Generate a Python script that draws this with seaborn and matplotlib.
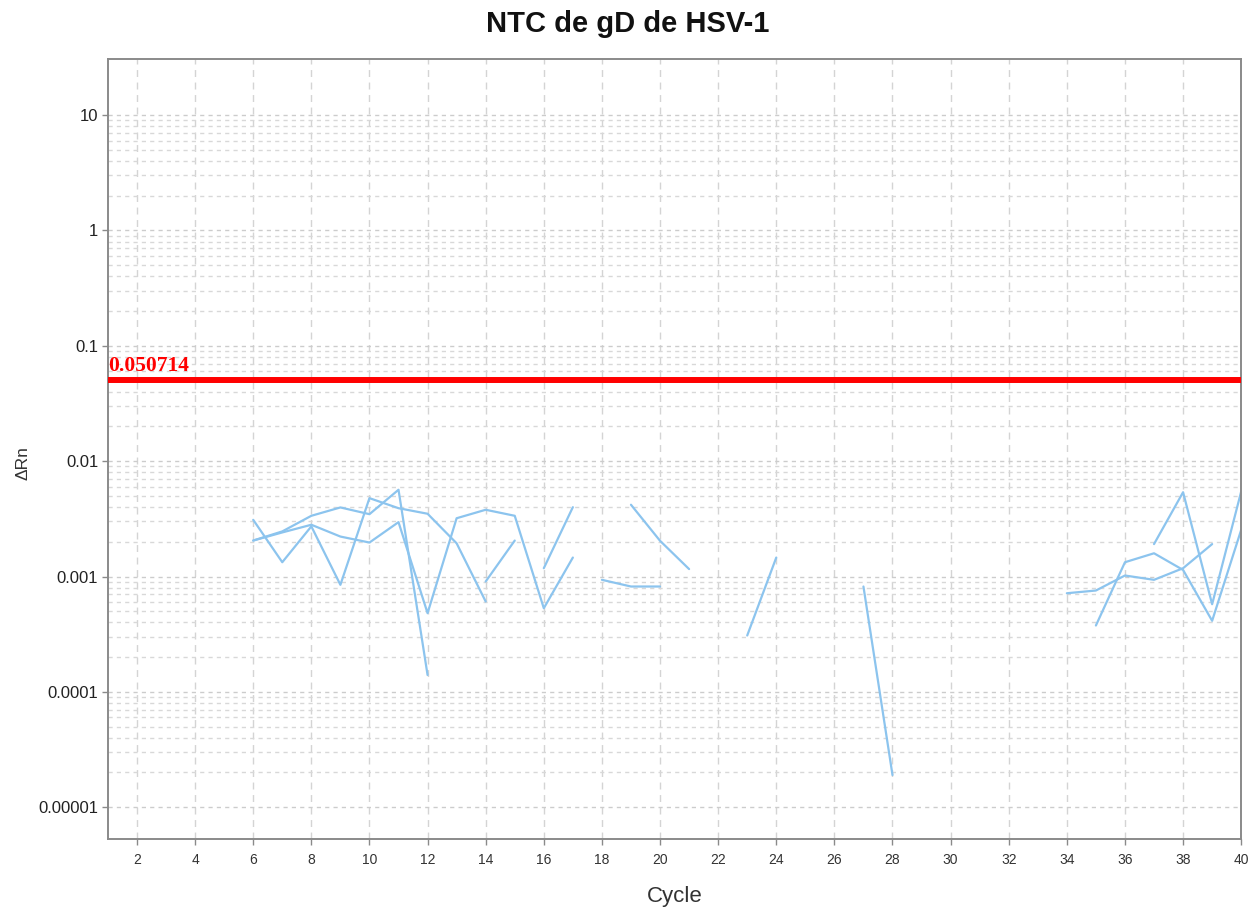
import numpy as np
import pandas as pd
import matplotlib
matplotlib.use("Agg")
import matplotlib.pyplot as plt
import seaborn as sns
from matplotlib.ticker import FixedLocator, NullFormatter, FixedFormatter

# ---------------- data ----------------
title = "NTC de gD de HSV-1"
x_label = "Cycle"
y_label = "ΔRn"
threshold = 0.050714
threshold_label = "0.050714"
x_ticks = list(range(2, 41, 2))
y_ticks = [1e-5, 1e-4, 1e-3, 1e-2, 1e-1, 1, 10]
y_tick_labels = ["0.00001", "0.0001", "0.001", "0.01", "0.1", "1", "10"]

# amplification-plot segments (cycles, ΔRn); gaps are negative ΔRn values
seg1_cycles = [6, 7, 8, 9, 10, 11, 12, 13, 14]
seg1_drn = [0.00310, 0.00133, 0.00272, 0.000847, 0.00478, 0.00391, 0.00350, 0.00194, 0.000607]

seg2_cycles = [6, 7, 8, 9, 10, 11, 12]
seg2_drn = [0.00205, 0.00246, 0.00336, 0.00397, 0.00347, 0.00565, 0.000140]

seg3_cycles = [6, 7, 8, 9, 10, 11, 12, 13, 14, 15, 16, 17]
seg3_drn = [0.00205, 0.00241, 0.00281, 0.00222, 0.00197, 0.00296, 0.000481,
            0.00320, 0.00379, 0.00336, 0.000531, 0.00146]

seg4_cycles = [16, 17]
seg4_drn = [0.00118, 0.00399]

seg5_cycles = [14, 15]
seg5_drn = [0.000905, 0.00205]

seg6_cycles = [18, 19, 20]
seg6_drn = [0.000936, 0.000819, 0.000819]

seg7_cycles = [19, 20, 21]
seg7_drn = [0.00419, 0.00204, 0.00116]

seg8_cycles = [23, 24]
seg8_drn = [0.000308, 0.00146]

seg9_cycles = [27, 28]
seg9_drn = [0.000819, 0.0000190]

seg10_cycles = [34, 35, 36, 37, 38, 39]
seg10_drn = [0.000716, 0.000756, 0.00102, 0.000936, 0.00118, 0.00191]

seg11_cycles = [35, 36, 37, 38, 39, 40]
seg11_drn = [0.000376, 0.00133, 0.00159, 0.00114, 0.000413, 0.00254]

seg12_cycles = [37, 38, 39, 40]
seg12_drn = [0.00191, 0.00538, 0.000575, 0.00546]

segments = [
    (seg1_cycles, seg1_drn), (seg2_cycles, seg2_drn), (seg3_cycles, seg3_drn),
    (seg4_cycles, seg4_drn), (seg5_cycles, seg5_drn), (seg6_cycles, seg6_drn),
    (seg7_cycles, seg7_drn), (seg8_cycles, seg8_drn), (seg9_cycles, seg9_drn),
    (seg10_cycles, seg10_drn), (seg11_cycles, seg11_drn), (seg12_cycles, seg12_drn),
]
rows = []
for i, (cs, vs) in enumerate(segments):
    for c, v in zip(cs, vs):
        rows.append({"cycle": c, "drn": v, "segment": i})
df = pd.DataFrame(rows)

# ---------------- style ----------------
sns.set_theme(style="white")
plt.rcParams["font.family"] = ["Liberation Sans", "DejaVu Sans"]

fig = plt.figure(figsize=(12.55, 9.09), dpi=100)
ax = fig.add_axes([0.086, 0.077, 0.989 - 0.086, 0.935 - 0.077])

sns.lineplot(data=df, x="cycle", y="drn", units="segment", estimator=None,
             color="#8cc4ee", linewidth=1.6, ax=ax, legend=False)

ax.set_yscale("log")
ax.set_xlim(1, 40)
ax.set_ylim(5.3e-6, 30.6)

# grid
minor_y = [m * 10.0 ** e for e in range(-5, 1) for m in range(2, 10)]
ax.xaxis.set_major_locator(FixedLocator(x_ticks))
ax.yaxis.set_major_locator(FixedLocator(y_ticks))
ax.yaxis.set_major_formatter(FixedFormatter(y_tick_labels))
ax.yaxis.set_minor_locator(FixedLocator(minor_y))
ax.yaxis.set_minor_formatter(NullFormatter())
ax.grid(True, axis="x", which="major", color="#d4d4d4", linestyle=(0, (5, 4)), linewidth=1.0)
ax.grid(True, axis="y", which="major", color="#cccccc", linestyle=(0, (3, 3)), linewidth=1.0)
ax.grid(True, axis="y", which="minor", color="#d8d8d8", linestyle=(0, (3, 3)), linewidth=1.0)
ax.set_axisbelow(True)

# threshold
ax.axhline(threshold, color="#ff0000", linewidth=4.3, zorder=5)
ax.annotate(threshold_label, xy=(1, threshold), xytext=(0.5, 2.5), textcoords="offset points",
            ha="left", va="bottom", color="#ff0000", fontsize=15.5, fontweight="bold",
            family=["Liberation Serif", "DejaVu Serif"], zorder=6)

# spines and ticks
for s in ax.spines.values():
    s.set_color("#8a8a8a")
    s.set_linewidth(1.4)
ax.tick_params(axis="x", which="major", length=4, width=1, color="#8a8a8a",
               labelsize=10, labelcolor="#333333", pad=6, bottom=True)
ax.tick_params(axis="y", which="major", length=4, width=1, color="#8a8a8a",
               labelsize=12, labelcolor="#222222", pad=3, left=True)
ax.tick_params(axis="y", which="minor", length=0)

ax.set_xlabel(x_label, fontsize=16, color="#333333", labelpad=14)
ax.set_ylabel(y_label, fontsize=12.5, color="#333333")
ax.yaxis.set_label_coords(-0.068, 0.482)

fig.suptitle(title, x=0.5, y=0.974, va="center", fontsize=21, fontweight="bold",
             color="#111111")

fig.savefig("out.png", dpi=100)
